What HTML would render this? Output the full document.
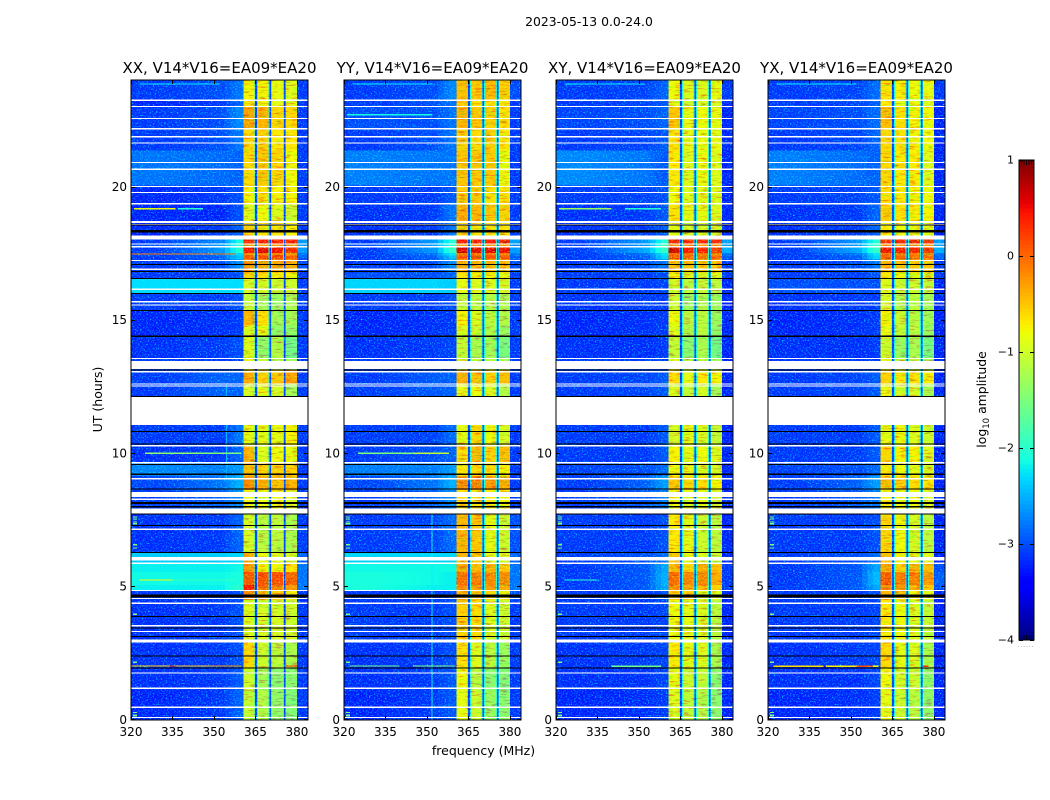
<!DOCTYPE html>
<html lang="en">
<head>
<meta charset="utf-8">
<title>2023-05-13 dynamic spectra</title>
<style>
html,body{margin:0;padding:0;background:#fff;width:1050px;height:800px;overflow:hidden}
svg{display:block}
text{font-family:"DejaVu Sans","Liberation Sans",sans-serif;fill:#000}
</style>
</head>
<body>
<svg id="chart" xmlns="http://www.w3.org/2000/svg" width="1050" height="800" viewBox="0 0 1050 800">
  <defs>
    <filter id="speckle" x="0" y="0" width="100%" height="100%" color-interpolation-filters="sRGB">
      <feTurbulence type="fractalNoise" baseFrequency="0.62 0.72" numOctaves="2" seed="7"/>
      <feColorMatrix type="matrix" values="0 0 0 0 0  2.6 0 0 0 -1.35  0 0 0 0 0  0 0 0 0 1"/>
    </filter>
    <filter id="mottle" x="0" y="0" width="100%" height="100%" color-interpolation-filters="sRGB">
      <feTurbulence type="fractalNoise" baseFrequency="0.12 0.6" numOctaves="2" seed="11"/>
      <feColorMatrix type="matrix" values="1.1 0 0 0 .5  0 1.5 0 0 .3  0 0 0 0 1  0 0 0 0 1"/>
    </filter>
  </defs>
  <text x="589" y="26" font-size="12.4" text-anchor="middle">2023-05-13 0.0-24.0</text>
  <text x="483.5" y="755" font-size="12.5" text-anchor="middle">frequency (MHz)</text>
  <text transform="translate(102,399.5) rotate(-90)" font-size="12.5" text-anchor="middle">UT (hours)</text>
  <text transform="translate(986,399.5) rotate(-90)" font-size="12.4" text-anchor="middle">log<tspan font-size="8.6" dy="3">10</tspan><tspan dy="-3"> amplitude</tspan></text>
  <g id="panels"></g>
  <g id="colorbar"></g>
</svg>
<script>
// Chart data
const panelNames = ["XX", "YY", "XY", "YX"];
const baselineLabel = "V14*V16=EA09*EA20";
const xTickValues = [320, 335, 350, 365, 380];
const yTickValues = [0, 5, 10, 15, 20];
const colorbarTicks = [1, 0, -1, -2, -3, -4];
const freqRange = [320, 384];
const utRange = [0, 24];
const colorRange = [-4, 1];

// time-segment boundaries, in UT hours, from the top of the plot downwards
const rowEdgesUT = [24,23.23,23,22.15,21.35,20.04,19.3,18.66,18.16,17.86,17.71,17.51,17.41,17.26,16.77,16.52,16,15.36,14.79,14.38,13.55,13.1,12.58,12.11,11.04,10.28,9.65,9.13,8.61,7.73,6.24,5.89,5.53,5.04,4.82,4.47,2.97,1.93,1.1,0];

// frequency channels of the four bright sub-bands and the tail, in MHz, and the value column each reads
const freqEdges = [360.6,364.6,364.9,365.6,365.9,369.8,370.1,370.6,370.9,375,375.3,375.8,376.1,380.1,384];
const channelColumns = [3,"edge","gap","edge",4,"edge","gap","edge",5,"edge","gap","edge",6,7];
const edgeLevel = -2.0;
const gapLevel = -3.05;

// log10 amplitude per time-segment: low1, low2, low3, band1, band2, band3, band4, tail
const levelsXX = [
[-3,-2.9,-2.7,-.7,-.7,-.8,-.85,-3],[-3.1,-3,-2.8,-.6,-.7,-.8,-.8,-3],[-3,-2.9,-2.6,-.25,-.35,-.55,-.55,-3],[-3,-2.9,-2.7,-.55,-.5,-.65,-.65,-3],
[-2.7,-2.75,-2.8,-.55,-.45,-.55,-.75,-3],[-3.1,-3,-2.9,-.7,-.6,-.7,-.7,-3],[-3.1,-3.1,-2.9,-.85,-.75,-.85,-.95,-3],[-3.1,-3,-2.8,-.5,-.6,-.6,-.7,-3],
[-3,-2.6,-2,.45,.45,.5,.45,-2.5],[-2.9,-2.5,-1.9,-.2,-.2,-.2,-.2,-2.5],[-3,-2.5,-1.9,.5,.6,.55,.4,-2.5],[-3,-2.7,-2.2,-.1,-.1,-.1,-.2,-2.7],
[-3,-2.8,-2.3,.15,.25,.25,.15,-2.8],[-3,-2.9,-2.6,-.2,-.25,-.25,-.3,-2.9],[-3,-3,-2.9,-.5,-.6,-.7,-.7,-3],[-2.15,-2.15,-2.15,-.9,-.9,-.95,-.95,-3],
[-3,-3,-2.9,-1,-1.2,-1.25,-1.15,-3],[-3.1,-3.05,-3,-.35,-.6,-1.2,-1.2,-3],[-3.1,-3.05,-3,-.85,-.8,-1.3,-1.3,-3],[-3.05,-3,-2.9,-.85,-1.3,-1.1,-1.5,-3],
[-3,-3,-3,-.8,-1,-1.1,-1.2,-3],[-3,-2.8,-2.8,-.3,-.5,-.45,-.25,-3],[-3,-2.8,-2.8,-.9,-.8,-.9,-1.2,-3],[-3,-3,-3,-1,-1,-1,-1,-3],
[-3,-3,-2.7,-.8,-.8,-.8,-.7,-3],[-3.05,-3,-2.8,-.35,-.85,-.75,-.8,-3],[-2.6,-2.65,-2.5,-.4,-.5,-.5,-.5,-3],[-2.95,-2.7,-2.4,-.15,-.3,-.4,-.35,-3],
[-3,-2.8,-2.6,-.75,-.75,-.75,-.85,-3],[-3.05,-3,-2.8,-.9,-1.05,-1.05,-1.15,-3],[-2.25,-2.25,-2.2,-.3,-.8,-.85,-.9,-2.8],[-2.05,-2.05,-2,-.2,-.7,-.7,-.6,-2.7],
[-2,-2,-1.95,.15,.2,.2,.1,-2.7],[-2.05,-2.05,-1.85,.5,.05,-.05,-.2,-2.7],[-3,-3,-2.9,-.1,-.4,-.5,-.7,-3],[-3.05,-3,-2.9,-.85,-.9,-.9,-.95,-3],
[-3.05,-3,-2.9,-.55,-.95,-1.05,-1.15,-3],[-3.05,-3,-2.85,-.95,-1.2,-1.35,-1.35,-3],[-3.1,-3,-2.8,-1,-1.1,-1.3,-1.4,-3]
];
const levelsYY = [
[-3,-2.9,-2.6,-.4,-.45,-.35,-.5,-2.9],[-3,-2.9,-2.7,-.5,-.6,-.6,-.6,-3],[-2.9,-2.9,-2.7,-.35,-.45,-.5,-.6,-3],[-3,-2.9,-2.7,-.5,-.55,-.5,-.65,-3],
[-2.65,-2.7,-2.7,-.45,-.45,-.45,-.75,-3],[-3,-3,-2.85,-.5,-.45,-.6,-.6,-3],[-3.05,-3,-2.7,-.3,-.35,-.45,-.5,-3],[-3.05,-3,-2.7,-.55,-.6,-.6,-.6,-3],
[-3,-2.5,-1.9,.5,.5,.5,.45,-2.5],[-2.9,-2.5,-1.9,-.2,-.15,-.15,-.2,-2.6],[-3,-2.5,-1.8,.65,.6,.6,.55,-2.5],[-3,-2.7,-2.1,0,0,0,-.05,-2.7],
[-3,-2.8,-2.3,.15,.2,.2,.15,-2.8],[-3,-2.9,-2.6,-.3,-.3,-.35,-.4,-2.9],[-2.9,-2.9,-2.8,-.6,-.7,-.7,-.8,-3],[-2.2,-2.2,-2.25,-.8,-.85,-.85,-.9,-3],
[-3,-3,-2.9,-1,-1.05,-1.1,-1.15,-3],[-3.1,-3.05,-3,-.7,-.85,-1.05,-1.1,-3],[-3.1,-3.05,-3,-.85,-.95,-1.1,-1.25,-3],[-3.05,-3,-2.95,-1,-1.15,-1.2,-1.45,-3],
[-3,-3,-3,-.85,-.95,-1.05,-1.15,-3],[-3,-2.85,-2.8,-.3,-.45,-.5,-.4,-3],[-3,-2.85,-2.8,-.8,-.75,-.85,-1.1,-3],[-3,-3,-3,-1,-1,-1,-1,-3],
[-3,-2.95,-2.75,-.8,-.55,-.75,-.9,-3],[-3,-2.9,-2.8,-.6,-.4,-.5,-.4,-3],[-2.65,-2.65,-2.5,-.65,-.55,-.6,-.7,-3],[-2.95,-2.7,-2.4,-.1,-.1,-.2,-.3,-3],
[-3,-2.8,-2.6,-.6,-.6,-.65,-.7,-3],[-3,-2.95,-2.75,-.35,-.45,-.8,-.95,-2.9],[-2.2,-2.2,-2.2,-.35,-.45,-.8,-.85,-2.8],[-2,-2,-2,-.3,-.4,-.35,-.5,-2.7],
[-1.95,-2,-2.05,.05,-.05,-.1,-.15,-2.7],[-1.95,-2.05,-2.05,-.15,-.2,-.2,-.3,-2.7],[-3,-3,-2.9,-.3,-.4,-.6,-.7,-2.9],[-3,-3,-2.9,-.5,-.55,-.85,-.95,-3],
[-3.05,-3,-2.9,-.6,-.85,-1.05,-1.25,-3],[-3.05,-3,-2.85,-.75,-1.05,-1.35,-1.4,-3],[-3.1,-3,-2.85,-.8,-.95,-1.25,-1.35,-3]
];
const levelsXY = [
[-3,-2.95,-2.8,-.75,-.85,-.85,-.8,-3],[-3,-2.95,-2.85,-.8,-.95,-.85,-.9,-3.1],[-2.95,-2.9,-2.8,-.45,-.8,-.75,-.8,-3.1],[-3,-2.95,-2.85,-.6,-.8,-.75,-.8,-3.1],
[-2.6,-2.7,-2.85,-.65,-.85,-.75,-.85,-3.1],[-3,-2.95,-2.9,-.75,-.85,-.8,-.85,-3.1],[-3.05,-3,-2.85,-.6,-.8,-.8,-.85,-3.1],[-3.05,-3,-2.85,-.8,-.9,-.9,-.9,-3.1],
[-3,-2.5,-1.9,.45,.45,.45,.4,-2.5],[-3,-2.5,-1.8,-.2,-.15,-.2,-.2,-2.5],[-3,-2.4,-1.8,.65,.5,.45,.3,-2.4],[-3,-2.7,-2.1,.05,0,-.05,-.1,-2.7],
[-3,-2.8,-2.2,.1,.1,.05,.05,-2.8],[-3,-2.9,-2.7,-.4,-.4,-.45,-.45,-3],[-3,-3,-2.9,-.7,-.85,-.85,-.85,-3],[-3,-3,-2.95,-.9,-1.05,-1,-1.05,-3.1],
[-3.05,-3,-3,-.95,-1.25,-1.1,-1.25,-3.1],[-3.1,-3.05,-3,-.75,-1.05,-1.05,-1.25,-3.1],[-3.1,-3.05,-3,-.85,-1.1,-1.05,-1.3,-3.1],[-3.05,-3.05,-3,-1,-1.35,-1.15,-1.5,-3.1],
[-3,-3,-3,-.85,-1.05,-1,-1.2,-3.1],[-3,-2.95,-2.85,-.6,-.8,-.65,-.7,-3.1],[-3,-2.95,-2.85,-.85,-1,-.9,-1.2,-3.1],[-3,-3,-3,-1,-1,-1,-1,-3],
[-3,-3,-2.85,-.9,-.8,-.85,-1,-3.1],[-3,-3,-2.85,-.7,-.8,-.75,-.85,-3.1],[-2.95,-2.9,-2.75,-.75,-.8,-.85,-.9,-3.1],[-3,-2.8,-2.5,-.45,-.55,-.6,-.7,-3.1],
[-3,-2.85,-2.7,-.75,-.8,-.8,-.9,-3.1],[-3,-3,-2.9,-.65,-.8,-.95,-1.05,-3.1],[-3,-2.9,-2.75,-.45,-.75,-.85,-1,-3.1],[-3,-2.85,-2.45,-.35,-.55,-.3,-.4,-3],
[-3,-2.85,-2.4,.05,-.1,-.1,-.3,-3],[-3,-2.85,-2.45,-.15,-.25,-.4,-.5,-3],[-3,-3,-2.9,-.45,-.5,-.8,-.85,-3.1],[-3,-3,-2.95,-.75,-.8,-.85,-1.05,-3.1],
[-3.05,-3,-2.95,-.65,-.8,-.85,-1.15,-3.1],[-3.05,-3.05,-2.95,-.8,-.95,-1,-1.35,-3.1],[-3.1,-3.05,-3,-.85,-1,-1.1,-1.35,-3.1]
];
const levelsYX = [
[-3,-2.95,-2.75,-.6,-.7,-.75,-.8,-3],[-3,-2.95,-2.8,-.65,-.8,-.75,-.85,-3.1],[-2.95,-2.9,-2.75,-.4,-.6,-.7,-.75,-3.1],[-3,-2.95,-2.8,-.55,-.6,-.7,-.75,-3.1],
[-2.65,-2.75,-2.8,-.55,-.65,-.65,-.85,-3.1],[-3,-2.95,-2.85,-.6,-.65,-.7,-.75,-3.1],[-3.05,-3,-2.8,-.5,-.6,-.65,-.7,-3.1],[-3.05,-3,-2.8,-.7,-.75,-.75,-.8,-3.1],
[-3,-2.5,-1.9,.4,.45,.45,.35,-2.5],[-3,-2.5,-1.8,-.2,-.15,-.2,-.2,-2.5],[-3,-2.4,-1.8,.55,.5,.45,.35,-2.4],[-3,-2.7,-2.1,0,0,-.05,-.1,-2.7],
[-3,-2.8,-2.2,.1,.1,.05,.05,-2.8],[-3,-2.9,-2.7,-.35,-.4,-.45,-.45,-3],[-3,-3,-2.9,-.65,-.75,-.8,-.85,-3],[-2.9,-2.9,-2.9,-.85,-.95,-.95,-1,-3.1],
[-3.05,-3,-3,-.9,-1.1,-1.05,-1.2,-3.1],[-3.1,-3.05,-3,-.7,-.95,-1.05,-1.2,-3.1],[-3.1,-3.05,-3,-.8,-1,-1.05,-1.25,-3.1],[-3.05,-3.05,-3,-.95,-1.25,-1.15,-1.45,-3.1],
[-3,-3,-3,-.8,-1,-1,-1.15,-3.1],[-3,-2.95,-2.85,-.5,-.65,-.6,-.7,-3.1],[-3,-2.95,-2.85,-.8,-.9,-.9,-1.15,-3.1],[-3,-3,-3,-1,-1,-1,-1,-3],
[-3,-3,-2.85,-.8,-.75,-.85,-.95,-3.1],[-3,-3,-2.85,-.55,-.7,-.7,-.85,-3.1],[-2.95,-2.9,-2.75,-.65,-.75,-.8,-.85,-3.1],[-3,-2.8,-2.5,-.4,-.5,-.55,-.65,-3.1],
[-3,-2.85,-2.7,-.7,-.75,-.75,-.85,-3.1],[-3,-3,-2.9,-.55,-.75,-.9,-1.05,-3.1],[-3,-2.9,-2.75,-.4,-.7,-.8,-.85,-3.1],[-3,-2.85,-2.45,-.3,-.5,-.35,-.4,-2.9],
[-3,-2.85,-2.35,.15,-.05,-.05,-.2,-2.8],[-3,-2.85,-2.45,-.15,-.15,-.3,-.45,-2.9],[-3,-3,-2.9,-.35,-.5,-.7,-.8,-3.1],[-3,-3,-2.95,-.65,-.75,-.85,-1,-3.1],
[-3.05,-3,-2.95,-.55,-.8,-.85,-1.15,-3.1],[-3.05,-3.05,-2.95,-.75,-.9,-.95,-1.3,-3.1],[-3.1,-3.05,-3,-.8,-.95,-1.05,-1.3,-3.1]
];

// flagged time ranges, common to all panels: [UT high, UT low]
const flaggedWhite = [[23.26,23.21],[23.03,22.98],[22.58,22.53],[22.2,22.15],[21.89,21.84],[21.66,21.61],[20.93,20.88],[20.67,20.62],[20.03,19.98],[19.8,19.75],[19.38,19.33],[18.71,18.63],[18.6,18.56],[18.17,18.02],[17.86,17.82],[17.76,17.72],[17.25,17.2],[16.92,16.87],[16.17,16.12],[15.7,15.65],[15.58,15.53],[13.57,13.52],[13.46,13.16],[13.07,13.02],[12.61,12.57],[12.54,12.5],[12.11,11.04],[10.3,10.25],[9.66,9.61],[9.06,9.01],[8.53,8.35],[8.29,8.24],[7.92,7.73],[7.16,7.11],[6.1,5.97],[5.88,5.83],[4.86,4.81],[4.56,4.52],[4.38,4.33],[3.54,3.49],[3.32,3.27],[2.99,2.88],[1.76,1.71],[1.19,1.14],[.48,.43],[.09,.04]];
const flaggedBlack = [[18.57,18.53],[18.36,18.28],[17.1,17.06],[16.83,16.79],[16.57,16.53],[16.01,15.97],[15.37,15.33],[14.41,14.36],[13.14,13.1],[12.14,12.1],[10.82,10.78],[10.35,10.31],[9.58,9.54],[9.22,9.18],[8.66,8.62],[8.15,8.08],[8,7.96],[7.72,7.69],[7.3,7.26],[6.28,6.24],[4.68,4.58],[3.88,3.84],[3.44,3.4],[3.13,3.09],[2.4,2.37],[1.94,1.9]];

// narrow interference lines: [UT, MHz from, MHz to, log10 amplitude]
const rfiXX = [[23.85,323,352,-2.2],[19.17,321,336,-.8],[19.17,337,346,-2],[17.47,320,358,-.1],[9.99,325,345,-1.4],[9.99,345,360,-1.5],[5.23,323,335,-.8],[5.23,335,358,-1.9],[2,320,334,-.6],[2,334,336,.3],[2,336,349,-.5],[2,349,360,-.2],[2,376,380,.5]];
const rfiYY = [[23.85,323,352,-2.2],[22.7,321,352,-2.1],[9.99,325,345,-1.5],[9.99,345,358,-1.1],[2,322,340,-1.6],[2,345,360,-1.5]];
const rfiXY = [[23.85,323,352,-2.2],[19.17,321,340,-1.3],[19.17,345,358,-2],[5.23,323,335,-2],[1.99,340,358,-1.6]];
const rfiYX = [[23.85,323,352,-2.2],[1.99,322,340,-.6],[1.99,341,352,-.7],[1.99,352,358,.2],[1.99,358,360,-.8],[1.99,376,378,.4]];

// narrow channels with steady interference: [MHz, UT low, UT high, log10 amplitude]
const channelLinesXX = [[354.6,9,12.6,-2.5]];
const channelLinesYY = [[351.9,0,7.74,-2.2]];
const channelLinesXY = [];
const channelLinesYX = [];

// bright samples along the low edge of the band, common to all panels (UT hours)
const edgeSpeckleUT = [7.6,7.52,7.41,7.34,6.55,6.43,3.95,2.14,1.17,.26,.15,.08];

const levelsByPanel = [levelsXX, levelsYY, levelsXY, levelsYX];
const rfiByPanel = [rfiXX, rfiYY, rfiXY, rfiYX];
const channelLinesByPanel = [channelLinesXX, channelLinesYY, channelLinesXY, channelLinesYX];

// Rendering
const NS = "http://www.w3.org/2000/svg";
const panelsGroup = document.getElementById("panels");
const colorbarGroup = document.getElementById("colorbar");
const plotTop = 80, plotBottom = 719.3, plotWidth = 177;
const panelLefts = [131, 344, 556, 768];
const lowOffset = -0.15, bandOffset = -0.05;
const lowStart = 320, lowEnd = 360.6, lowStep = 2;
const bandMottleFrom = 360.6, bandMottleTo = 380.1;

function make(tag, parent, props) {
  const el = document.createElementNS(NS, tag);
  for (const k in props) el.setAttribute(k, props[k]);
  parent.appendChild(el);
  return el;
}
function segment(points, t) {
  for (let i = 1; i < points.length; i++) {
    if (t <= points[i][0]) {
      const a = points[i - 1], b = points[i];
      return a[1] + (b[1] - a[1]) * (t - a[0]) / (b[0] - a[0]);
    }
  }
  return points[points.length - 1][1];
}
const jetR = [[0,0],[.35,0],[.66,1],[.89,1],[1,.5]];
const jetG = [[0,0],[.125,0],[.375,1],[.64,1],[.91,0],[1,0]];
const jetB = [[0,.5],[.11,1],[.34,1],[.65,0],[1,0]];
function colorScale(v) {
  const t = Math.max(0, Math.min(1, (v - colorRange[0]) / (colorRange[1] - colorRange[0])));
  const c = p => Math.round(255 * segment(p, t));
  return "rgb(" + c(jetR) + "," + c(jetG) + "," + c(jetB) + ")";
}
function yScale(ut) {
  return plotBottom - (ut - utRange[0]) / (utRange[1] - utRange[0]) * (plotBottom - plotTop);
}
function xScaleFor(left) {
  return f => left + (f - freqRange[0]) / (freqRange[1] - freqRange[0]) * plotWidth;
}
// smooth shading of the quiet part of the band between its three row values
function lowLevel(row, f) {
  return segment([[320, row[0]], [330, row[0]], [353, row[1]], [358.5, row[2]], [361, row[2]]], f) + lowOffset;
}

panelNames.forEach(function (name, p) {
  const left = panelLefts[p];
  const x = xScaleFor(left);
  const levels = levelsByPanel[p];
  const g = make("g", panelsGroup, {});
  
  

  const title = make("text", g, {x: left + plotWidth / 2, y: 73, "font-size": 15, "text-anchor": "middle"});
  
  
  title.textContent = name + ", " + baselineLabel;

  // heatmap cells
  const heat = make("g", g, {"shape-rendering": "crispEdges"});
  
  
  levels.forEach(function (row, r) {
    const y0 = yScale(rowEdgesUT[r]), y1 = yScale(rowEdgesUT[r + 1]);
    for (let f = lowStart; f < lowEnd; f += lowStep) {
      const f1 = Math.min(f + lowStep, lowEnd);
      const lowCell = make("rect", heat, {x: x(f), y: y0, width: x(f1) - x(f), height: y1 - y0, fill: colorScale(lowLevel(row, (f + f1) / 2))});
      
      
    }
    channelColumns.forEach(function (col, c) {
      let v;
      if (col === "edge") v = edgeLevel;
      else if (col === "gap") v = gapLevel;
      else if (col === 7) v = row[col] + lowOffset;
      else v = row[col] + bandOffset;
      const x0 = x(freqEdges[c]), x1 = x(freqEdges[c + 1]);
      const cell = make("rect", heat, {x: x0, y: y0, width: x1 - x0, height: y1 - y0, fill: colorScale(v)});
      
      
    });
  });

  // channel lines and interference lines
  channelLinesByPanel[p].forEach(function (d) {
    const line = make("rect", heat, {x: x(d[0]) - .5, y: yScale(d[2]), width: 1, height: yScale(d[1]) - yScale(d[2]), fill: colorScale(d[3])});
    
    
  });
  rfiByPanel[p].forEach(function (d) {
    const line = make("rect", heat, {x: x(d[1]), y: yScale(d[0]) - .6, width: x(d[2]) - x(d[1]), height: 1.3, fill: colorScale(d[3])});
    
    
  });
  edgeSpeckleUT.forEach(function (ut) {
    const dot = make("rect", heat, {x: x(320.8), y: yScale(ut) - .6, width: x(322.2) - x(320.8), height: 1.3, fill: colorScale(-1.5)});
    
    
  });

  // fine grain of the measurement noise
  const grain = make("rect", g, {x: left, y: plotTop, width: plotWidth, height: plotBottom - plotTop, filter: "url(#speckle)", style: "mix-blend-mode:screen"});
  
  
  const mottle = make("rect", g, {x: x(bandMottleFrom), y: plotTop, width: x(bandMottleTo) - x(bandMottleFrom), height: plotBottom - plotTop, filter: "url(#mottle)", style: "mix-blend-mode:multiply"});
  
  

  // flagged time ranges
  const flags = make("g", g, {"shape-rendering": "crispEdges"});
  
  
  flaggedWhite.forEach(function (d) {
    const r = make("rect", flags, {x: left, y: yScale(d[0]), width: plotWidth, height: Math.max(1, yScale(d[1]) - yScale(d[0])), fill: "#fff"});
    
    
  });
  flaggedBlack.forEach(function (d) {
    const r = make("rect", flags, {x: left, y: yScale(d[0]), width: plotWidth, height: Math.max(1, yScale(d[1]) - yScale(d[0])), fill: "#000"});
    
    
  });

  // frame
  const frame = make("rect", g, {x: left, y: 80, width: plotWidth, height: 640, fill: "none", stroke: "#000", "stroke-width": 1});
  
  

  // x ticks
  xTickValues.forEach(function (f) {
    const px = Math.round(x(f)) + .5;
    const t1 = make("line", g, {x1: px, x2: px, y1: 720, y2: 716, stroke: "#000"});
    
    
    const t2 = make("line", g, {x1: px, x2: px, y1: 80, y2: 84, stroke: "#000"});
    
    
    const label = make("text", g, {x: x(f), y: 736, "font-size": 12, "text-anchor": "middle"});
    
    
    label.textContent = f;
  });
  // y ticks
  yTickValues.forEach(function (ut) {
    const py = Math.round(yScale(ut)) + .5;
    const t1 = make("line", g, {x1: left, x2: left + 4, y1: py, y2: py, stroke: "#000"});
    
    
    const t2 = make("line", g, {x1: left + plotWidth, x2: left + plotWidth - 4, y1: py, y2: py, stroke: "#000"});
    
    
    const label = make("text", g, {x: left - 4, y: yScale(ut) + 4.5, "font-size": 12, "text-anchor": "end"});
    
    
    label.textContent = ut;
  });
});

// Colorbar
const cbLeft = 1019, cbWidth = 15, cbTop = 160, cbBottom = 640;
const cbY = v => cbBottom - (v - colorRange[0]) / (colorRange[1] - colorRange[0]) * (cbBottom - cbTop);
const cbSteps = 120;
for (let i = 0; i < cbSteps; i++) {
  const v0 = colorRange[0] + (colorRange[1] - colorRange[0]) * i / cbSteps;
  const v1 = colorRange[0] + (colorRange[1] - colorRange[0]) * (i + 1) / cbSteps;
  const band = make("rect", colorbarGroup, {x: cbLeft, y: cbY(v1), width: cbWidth, height: cbY(v0) - cbY(v1) + .5, fill: colorScale((v0 + v1) / 2), "shape-rendering": "crispEdges"});
  
  
}
const cbFrame = make("rect", colorbarGroup, {x: cbLeft, y: cbTop, width: cbWidth, height: cbBottom - cbTop, fill: "none", stroke: "#000"});


colorbarTicks.forEach(function (v) {
  const py = Math.round(cbY(v)) + .5;
  const t1 = make("line", colorbarGroup, {x1: cbLeft, x2: cbLeft + 4, y1: py, y2: py, stroke: "#000"});
  
  
  const t2 = make("line", colorbarGroup, {x1: cbLeft + cbWidth, x2: cbLeft + cbWidth - 4, y1: py, y2: py, stroke: "#000"});
  
  
  const label = make("text", colorbarGroup, {x: cbLeft - 5, y: cbY(v) + 3.5, "font-size": 11, "text-anchor": "end"});
  
  
  label.textContent = v < 0 ? "\u2212" + Math.abs(v) : String(v);
});
for (let i = 1; i < 6; i++) {
  const px = cbLeft + cbWidth * i / 6;
  const a = make("line", colorbarGroup, {x1: px, x2: px, y1: cbTop, y2: cbTop + 5, stroke: "#000", "stroke-width": .8});
  
  
  const b = make("line", colorbarGroup, {x1: px, x2: px, y1: cbBottom, y2: cbBottom - 5, stroke: "#000", "stroke-width": .8});
  
  
}
const dots = make("text", colorbarGroup, {x: 1026, y: 647, "font-size": 6, "text-anchor": "middle", "letter-spacing": ".9", style: "fill:#888"});


dots.textContent = "......";
</script>
</body>
</html>
